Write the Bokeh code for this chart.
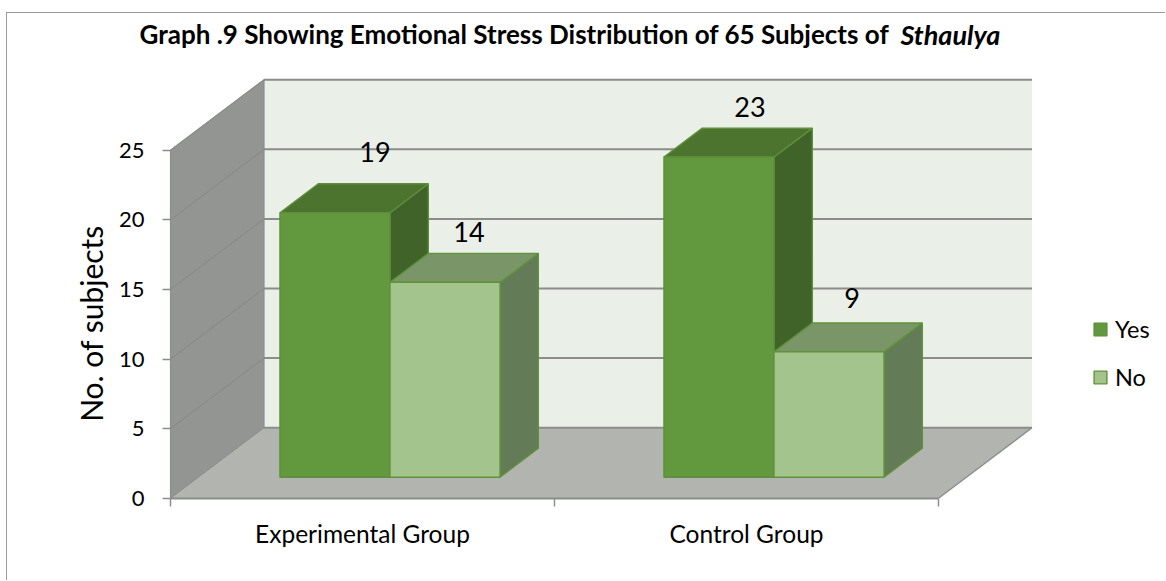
from bokeh.embed import file_html
from bokeh.resources import INLINE
from bokeh.plotting import figure
from bokeh.models import Range1d, LinearAxis, FixedTicker, Label, Legend, LegendItem

# ---- data ----
categories = ["Experimental Group", "Control Group"]
series_names = ["Yes", "No"]
yes_values = [19, 23]
no_values = [14, 9]
y_ticks = [0, 5, 10, 15, 20, 25]
title_main = "Graph .9 Showing Emotional Stress Distribution of 65 Subjects of"
title_italic = "Sthaulya"
y_label = "No. of subjects"

# ---- geometry of the oblique 3D projection (in axis units) ----
PX_X, PX_Y = 384.0, 13.92
ORIGIN_X, ORIGIN_Y = 170.0, 497.7      # page pixel of (0, 0)
DX, DY = 93.5 / PX_X, 70.5 / PX_Y
Y_MAX = 25
D_FRONT, D_BACK = 0.298, 0.708
BAR_START, BAR_W = 0.2125, 0.2865
LABEL_OFFSETS = {(0, 0): (40, 61), (0, 1): (24, 50), (1, 0): (31, 50), (1, 1): (23, 54)}

def proj(x, v, d):
    return x + d * DX, v + d * DY

def page_x(x):
    return (x - ORIGIN_X) / PX_X

def page_y(y):
    return (ORIGIN_Y - y) / PX_Y

FONT = "Lato"
AXIS_C = "#8c8c8c"
WALL_SIDE, WALL_BACK, FLOOR = "#929592", "#eaefe8", "#b1b4af"
COLORS = [
    dict(front="#62993f", top="#4c742e", side="#40632a", edge="#5c8f3a"),
    dict(front="#a3c58d", top="#7a9669", side="#637c57", edge="#5f9338"),
]

CANVAS_L, CANVAS_T = 7, 13
W, H = 1159, 568
p = figure(width=W, height=H, output_backend="svg", toolbar_location=None,
           x_range=Range1d(page_x(CANVAS_L), page_x(CANVAS_L + W)),
           y_range=Range1d(page_y(CANVAS_T + H), page_y(CANVAS_T)),
           min_border_left=0, min_border_right=0, min_border_top=0, min_border_bottom=0,
           x_axis_type=None, y_axis_type=None,
           outline_line_color=None, background_fill_color=None, border_fill_color=None)
p.styles = {"margin-left": "6px", "margin-top": "12px",
            "border-left": "1px solid #9a9a9a", "border-top": "1px solid #9a9a9a"}
p.grid.visible = False

def face(pts):
    return [q[0] for q in pts], [q[1] for q in pts]

# walls & floor
xs, ys = face([proj(0, 0, 0), proj(0, Y_MAX, 0), proj(0, Y_MAX, 1), proj(0, 0, 1)])
p.patch(xs, ys, fill_color=WALL_SIDE, line_color=None)
xs, ys = face([proj(0, 0, 1), proj(0, Y_MAX, 1), proj(2, Y_MAX, 1), proj(2, 0, 1)])
p.patch(xs, ys, fill_color=WALL_BACK, line_color=None)
xs, ys = face([proj(0, 0, 0), proj(0, 0, 1), proj(2, 0, 1), proj(2, 0, 0)])
p.patch(xs, ys, fill_color=FLOOR, line_color=None)

# gridlines
for t in y_ticks:
    x0, y0 = proj(0, t, 0)
    x1, y1 = proj(0, t, 1)
    x2, y2 = proj(2, t, 1)
    p.line([x0, x1], [y0, y1], line_color="#858885", line_width=1)
    p.line([x1, x2], [y1, y2], line_color=AXIS_C, line_width=2)
x0, y0 = proj(2, 0, 0); x1, y1 = proj(2, 0, 1)
p.line([x0, x1], [y0, y1], line_color=AXIS_C, line_width=1.4)
x0, y0 = proj(0, 0, 0); x1, y1 = proj(0, Y_MAX, 0); x2, y2 = proj(0, Y_MAX, 1)
p.line([x0, x1, x2], [y0, y1, y2], line_color=AXIS_C, line_width=1.2)
x0, y0 = proj(0, 0, 1)
p.line([x2, x2], [y0, y2], line_color=AXIS_C, line_width=1.2)

# bars
legend_renderers = [None, None]
for i in range(len(categories)):
    for s, vals in enumerate((yes_values, no_values)):
        v = vals[i]
        c = COLORS[s]
        a = i + BAR_START + s * BAR_W
        b = a + BAR_W
        xs, ys = face([proj(b, 0, D_FRONT), proj(b, v, D_FRONT), proj(b, v, D_BACK), proj(b, 0, D_BACK)])
        p.patch(xs, ys, fill_color=c["side"], line_color=c["edge"], line_width=1.4)
        xs, ys = face([proj(a, v, D_FRONT), proj(a, v, D_BACK), proj(b, v, D_BACK), proj(b, v, D_FRONT)])
        p.patch(xs, ys, fill_color=c["top"], line_color=c["edge"], line_width=1.4)
        xs, ys = face([proj(a, 0, D_FRONT), proj(a, v, D_FRONT), proj(b, v, D_FRONT), proj(b, 0, D_FRONT)])
        r = p.patch(xs, ys, fill_color=c["front"], line_color=c["edge"], line_width=1.4)
        if legend_renderers[s] is None:
            legend_renderers[s] = r

# data labels
for i in range(len(categories)):
    for s, vals in enumerate((yes_values, no_values)):
        v = vals[i]
        a = i + BAR_START + s * BAR_W
        fx, fy = proj(a + BAR_W / 2, v, D_FRONT)
        ox, oy = LABEL_OFFSETS[(i, s)]
        p.add_layout(Label(x=fx + ox / PX_X, y=fy + oy / PX_Y, text=str(v), text_font=FONT,
                           text_font_size="27px", text_color="#000000",
                           text_align="center", text_baseline="middle"))

# title
p.add_layout(Label(x=page_x(139), y=page_y(33.5), text=title_main, text_font=FONT,
                   text_font_size="26px", text_font_style="bold", text_color="#000000",
                   text_baseline="middle", text_align="left"))
p.add_layout(Label(x=page_x(900), y=page_y(33.5), text=title_italic, text_font=FONT,
                   text_font_size="27px", text_font_style="bold italic", text_color="#000000",
                   text_baseline="middle", text_align="left"))

# axes, pinned to the zero lines of the projected plot
yax = LinearAxis(ticker=FixedTicker(ticks=y_ticks), bounds=(0, Y_MAX), fixed_location=0)
yax.axis_line_color = None
yax.major_tick_line_color = AXIS_C
yax.major_tick_line_width = 1.4
yax.major_tick_out = 8
yax.major_tick_in = 0
yax.minor_tick_line_color = None
yax.major_label_standoff = 18
yax.major_label_text_font = FONT
yax.major_label_text_font_size = "22px"
yax.major_label_text_color = "#000000"
p.add_layout(yax, "left")

xax = LinearAxis(ticker=FixedTicker(ticks=[0, 1, 2]), bounds=(0, 2), fixed_location=0)
xax.axis_line_color = AXIS_C
xax.axis_line_width = 2
xax.major_tick_line_color = AXIS_C
xax.major_tick_line_width = 1.4
xax.major_tick_out = 8
xax.major_tick_in = 0
xax.minor_tick_line_color = None
xax.major_label_text_font_size = "0px"
xax.major_label_overrides = {0: "", 1: "", 2: ""}
p.add_layout(xax, "below")

cax = LinearAxis(ticker=FixedTicker(ticks=[0.5, 1.5]), bounds=(0, 2), fixed_location=0)
cax.axis_line_color = None
cax.major_tick_line_color = None
cax.minor_tick_line_color = None
cax.major_label_overrides = {0.5: categories[0], 1.5: categories[1]}
cax.major_label_standoff = 15
cax.major_label_text_font = FONT
cax.major_label_text_font_size = "24.5px"
cax.major_label_text_color = "#000000"
p.add_layout(cax, "below")

p.add_layout(Label(x=page_x(90), y=page_y(323), text=y_label, angle=90, angle_units="deg",
                   text_font=FONT, text_font_size="30px", text_color="#000000",
                   text_align="center", text_baseline="middle"))

legend = Legend(items=[LegendItem(label=n, renderers=[r]) for n, r in zip(series_names, legend_renderers)],
                location=(1085, 190), orientation="vertical", padding=0, margin=0, spacing=20,
                glyph_width=16, glyph_height=16, label_standoff=7, border_line_color=None,
                background_fill_alpha=0, label_text_font=FONT, label_text_font_size="23.5px",
                label_text_color="#000000")
p.add_layout(legend, "center")

open("out.html", "w").write(file_html(p, INLINE))
